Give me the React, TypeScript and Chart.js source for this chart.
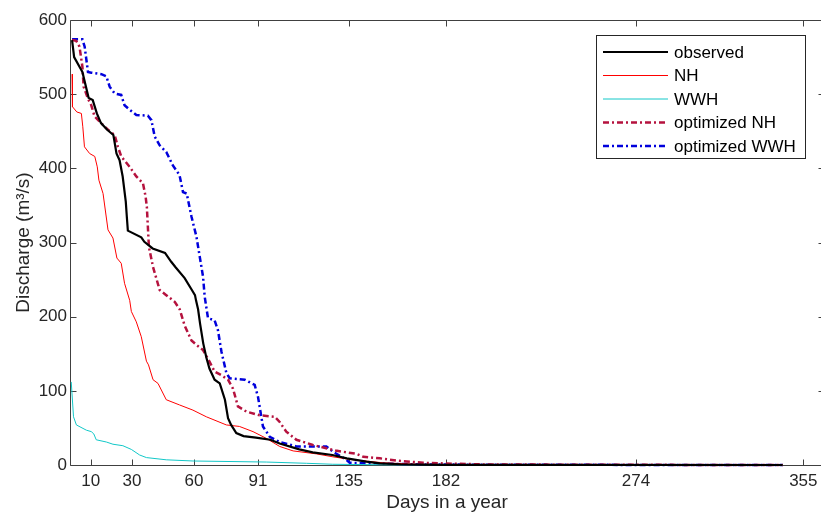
import React, { useEffect, useRef } from 'react';
import { Chart, registerables } from 'chart.js';

Chart.register(...registerables);

const xTickValues = [10, 30, 60, 91, 135, 182, 274, 355];
const yTickValues = [0, 100, 200, 300, 400, 500, 600];

const seriesLabels = ['observed', 'NH', 'WWH', 'optimized NH', 'optimized WWH'];

const observedDays = [1, 2, 5, 6, 9, 11, 13, 15, 18, 21, 22.5, 24, 25.5, 27, 27.5, 28, 34.5, 36, 40, 46, 49, 51, 55.5, 59, 60.5, 61, 62, 63, 64.5, 66, 67.5, 70, 72.5, 75, 76.5, 78, 80.5, 84, 90, 97, 101.5, 111, 117.5, 127, 134, 143.5, 150, 160, 170, 180, 345];
const observedQ = [573, 550, 535, 530, 495, 492, 474, 461, 452, 445, 420, 411, 389, 355, 335, 316, 307, 301, 292, 286, 274, 267, 252, 236, 229, 222, 210, 190, 164, 145, 130, 115, 110, 88, 63, 54, 43, 39, 37, 34, 29, 21, 17, 13.5, 9, 4.5, 2.3, 1, 0.5, 0.2, 0];

const nhDays = [1, 1.2, 3.3, 5.5, 6.2, 7, 9.5, 12, 13.2, 14, 16, 18.4, 20.8, 22.7, 24.8, 26.4, 28.9, 29.7, 32.1, 34.5, 37, 38, 40.2, 42.6, 46.6, 53, 59.5, 66, 75.7, 82, 88.6, 95, 101.5, 108, 119.3, 127.3, 137, 151.5, 167.7, 185, 345];
const nhQ = [527, 483, 476, 474, 456, 429, 420, 416, 402, 384, 366, 317, 306, 279, 272, 245, 222, 207, 193, 173, 140, 135, 115, 110, 88, 81, 74, 65, 54, 52, 45, 36, 25, 19, 15, 11, 7, 3, 1, 0.3, 0];

const wwhDays = [0.6, 1.7, 3.1, 7.9, 10.3, 11.5, 12.7, 17.6, 20.8, 25.6, 29.7, 33.7, 37, 46.6, 59.5, 95, 114.4, 127.2, 150, 345];
const wwhQ = [112, 65, 54, 47, 45, 42, 34, 31, 28, 26, 21, 13.5, 10, 7, 5.4, 4, 2.3, 1, 0.3, 0];

const optNhDays = [1, 3, 4.6, 6, 6.6, 8.7, 10.3, 11.9, 14.3, 18.4, 21.6, 23.2, 24.8, 28.9, 32.1, 35.3, 36.6, 37.2, 38.2, 40.2, 43.4, 46.6, 50.7, 53.1, 55.5, 58.8, 61.2, 64.4, 67.6, 70, 73.3, 76.5, 78.9, 81.3, 85.4, 91.8, 99.1, 101.5, 104.7, 109.6, 117.6, 128.5, 138.7, 142, 150, 158, 171, 182, 200, 250, 345];
const optNhQ = [573, 572, 564, 537, 510, 494, 485, 470, 463, 452, 445, 429, 416, 402, 389, 380, 362, 348, 294, 267, 236, 229, 220, 210, 188, 168, 162, 155, 139, 126, 121, 115, 103, 79, 72, 67, 65, 58, 45, 34, 27, 19.5, 15, 11, 9, 6, 3, 2, 0.8, 0.3, 0];

const optWwhDays = [1, 6, 7.1, 8.7, 10.3, 15.2, 17.6, 19.2, 21.6, 24.8, 26.4, 28.9, 32.1, 37.7, 39.4, 41, 43.4, 46.6, 49.8, 53, 54.7, 56.5, 58.8, 61.2, 62.8, 64.4, 65.2, 66.8, 70, 71.6, 73.3, 75.7, 77.3, 84.6, 89.4, 91, 93.4, 96.7, 101.5, 109.6, 124.1, 127.3, 133.8, 135.4, 150, 170, 200, 345];
const optWwhQ = [574, 574, 564, 530, 529, 527, 524, 510, 501, 499, 485, 479, 472, 471, 465, 443, 431, 422, 404, 391, 368, 366, 335, 308, 281, 254, 227, 198, 195, 182, 153, 124, 117, 115, 108, 92, 52, 38, 31, 25, 25, 18, 7, 3, 2, 0.8, 0.3, 0];

const seriesColors = ['#000000', '#FF0000', '#12C8C8', '#B5123E', '#0000DC'];
const seriesWidths = [2.2, 1, 1, 2.5, 2.5];
const dashDot = [6, 3, 2, 3];
const seriesDashes: number[][] = [[], [], [], dashDot, dashDot];

const FONT = "'Liberation Sans', Arial, Helvetica, sans-serif";

function toPoints(days: number[], q: number[]) {
  return days.map((d, i) => ({ x: d, y: q[i] }));
}

const axesBoxPlugin = {
  id: 'axesBox',
  beforeDatasetsDraw(chart: any) {
    const { ctx, chartArea, scales } = chart;
    const L = Math.round(chartArea.left) + 0.5;
    const R = Math.round(chartArea.right) + 0.5;
    const T = Math.round(chartArea.top) + 0.5;
    const B = Math.round(chartArea.bottom) + 0.5;
    ctx.save();
    ctx.strokeStyle = '#404040';
    ctx.lineWidth = 1;
    ctx.beginPath();
    ctx.rect(L, T, R - L, B - T);
    const tl = 6;
    xTickValues.forEach((v) => {
      const px = Math.round(scales.x.getPixelForValue(v)) + 0.5;
      ctx.moveTo(px, B);
      ctx.lineTo(px, B - tl);
      ctx.moveTo(px, T);
      ctx.lineTo(px, T + tl);
    });
    yTickValues.forEach((v) => {
      const py = Math.round(scales.y.getPixelForValue(v)) + 0.5;
      ctx.moveTo(L, py);
      ctx.lineTo(L + tl, py);
      ctx.moveTo(R, py);
      ctx.lineTo(R - tl, py);
    });
    ctx.stroke();
    ctx.restore();
  },
};

const legendPlugin = {
  id: 'boxLegend',
  afterDraw(chart: any) {
    const { ctx } = chart;
    const bx = 596.5, by = 35.5, bw = 209, bh = 123;
    ctx.save();
    ctx.fillStyle = '#ffffff';
    ctx.fillRect(bx, by, bw, bh);
    ctx.strokeStyle = '#262626';
    ctx.lineWidth = 1;
    ctx.strokeRect(bx, by, bw, bh);
    chart.data.datasets.forEach((ds: any, i: number) => {
      const yy = 52 + i * 23.5;
      ctx.beginPath();
      ctx.strokeStyle = ds.borderColor;
      ctx.lineWidth = ds.borderWidth;
      ctx.setLineDash(ds.borderDash || []);
      ctx.moveTo(603, yy);
      ctx.lineTo(668, yy);
      ctx.stroke();
      ctx.setLineDash([]);
      ctx.fillStyle = '#000000';
      ctx.font = `17px ${FONT}`;
      ctx.textAlign = 'left';
      ctx.textBaseline = 'middle';
      ctx.fillText(ds.label, 674, yy + 1);
    });
    ctx.restore();
  },
};

export default function App() {
  const canvasRef = useRef<HTMLCanvasElement | null>(null);

  useEffect(() => {
    const canvas = canvasRef.current;
    if (!canvas) return;
    const dayArrays = [observedDays, nhDays, wwhDays, optNhDays, optWwhDays];
    const qArrays = [observedQ, nhQ, wwhQ, optNhQ, optWwhQ];
    const chart = new Chart(canvas, {
      type: 'line',
      data: {
        datasets: seriesLabels.map((label, i) => ({
          label,
          data: toPoints(dayArrays[i], qArrays[i]),
          borderColor: seriesColors[i],
          backgroundColor: seriesColors[i],
          borderWidth: seriesWidths[i],
          borderDash: seriesDashes[i],
          pointRadius: 0,
          tension: 0,
          fill: false,
          clip: 6,
        })),
      },
      options: {
        animation: false,
        responsive: false,
        devicePixelRatio: 1,
        layout: { padding: { left: 0, right: 6, top: 20, bottom: 0 } },
        plugins: { legend: { display: false }, tooltip: { enabled: false } },
        scales: {
          x: {
            type: 'linear',
            min: 0,
            max: 365,
            grid: { display: false, drawTicks: false },
            border: { display: false },
            afterBuildTicks: (s: any) => {
              s.ticks = xTickValues.map((v) => ({ value: v }));
            },
            afterFit: (s: any) => {
              s.height = 47;
            },
            ticks: {
              autoSkip: false,
              maxRotation: 0,
              padding: 6,
              color: '#262626',
              font: { family: FONT, size: 17 },
              callback: (v: any) => String(v),
            },
            title: {
              display: true,
              text: 'Days in a year',
              color: '#262626',
              font: { family: FONT, size: 19, lineHeight: 1 },
              padding: { top: 0, bottom: 0 },
            },
          },
          y: {
            type: 'linear',
            min: 0,
            max: 600,
            grid: { display: false, drawTicks: false },
            border: { display: false },
            afterBuildTicks: (s: any) => {
              s.ticks = yTickValues.map((v) => ({ value: v }));
            },
            afterFit: (s: any) => {
              s.width = 70;
            },
            ticks: {
              padding: 3,
              color: '#262626',
              font: { family: FONT, size: 17 },
              callback: (v: any) => String(v),
            },
            title: {
              display: true,
              text: 'Discharge (m³/s)',
              color: '#262626',
              font: { family: FONT, size: 19, lineHeight: 1.2 },
              padding: { top: 12, bottom: 0 },
            },
          },
        },
      },
      plugins: [axesBoxPlugin, legendPlugin],
    });
    return () => chart.destroy();
  }, []);

  return (
    <div style={{ position: 'fixed', left: 0, top: 0, width: 821, height: 512, overflow: 'hidden', background: '#ffffff' }}>
      <canvas ref={canvasRef} width={830} height={512} style={{ display: 'block' }} />
    </div>
  );
}
